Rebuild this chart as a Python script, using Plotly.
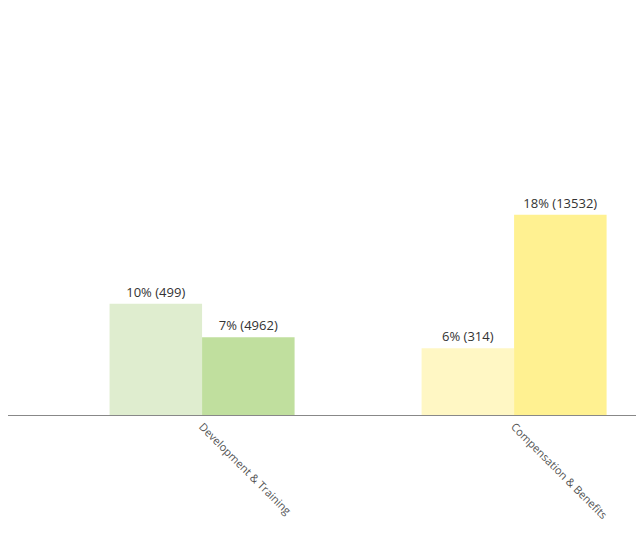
import plotly.graph_objects as go

categories = ["Development & Training", "Compensation & Benefits"]
pct_a = [10, 6]
cnt_a = [499, 314]
pct_b = [7, 18]
cnt_b = [4962, 13532]
colors_a = ["#dfedcf", "#fff7c4"]
colors_b = ["#c0df9e", "#fff191"]

fig = go.Figure()
for pct, cnt, cols in [(pct_a, cnt_a, colors_a), (pct_b, cnt_b, colors_b)]:
    fig.add_bar(x=categories, y=pct, marker=dict(color=cols, line=dict(width=0)),
                text=[f"{p}% ({c})" for p, c in zip(pct, cnt)],
                textposition="outside", cliponaxis=False,
                textfont=dict(color="#333333", size=13, family="Open Sans"))

fig.update_layout(
    width=644, height=541, barmode="group", bargap=0.407, bargroupgap=0,
    showlegend=False, plot_bgcolor="white", paper_bgcolor="white",
    margin=dict(l=0, r=0, t=0, b=134, pad=0),
    font=dict(family="Open Sans"),
    xaxis=dict(range=[-0.622, 1.442], showline=True, linecolor="#888888", linewidth=1,
               tickangle=45, tickfont=dict(size=11, color="#555555"), ticks="",
               showgrid=False, automargin=False),
    yaxis=dict(range=[0, 36.6], visible=False, showgrid=False, zeroline=False,
               automargin=False),
)
fig.write_html("out.html")
